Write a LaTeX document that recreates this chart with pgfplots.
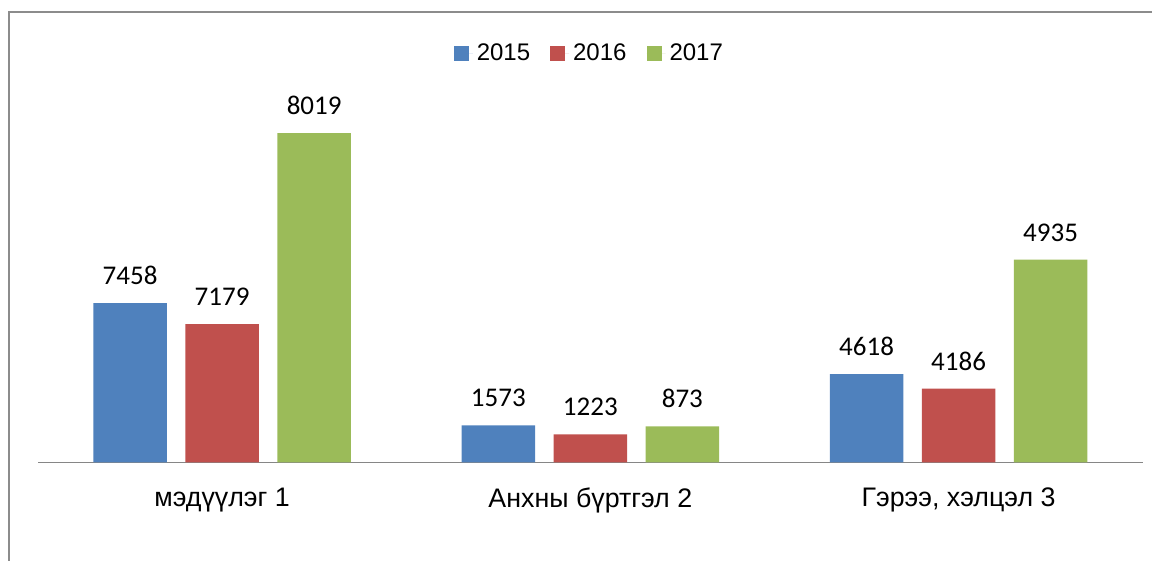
\documentclass[border=0pt]{standalone}
\usepackage{fontspec}
\setmainfont{Liberation Sans}
\newfontfamily\calib{Carlito}
\usepackage{pgfplots}
\usepackage{pgfplotstable}
\pgfplotsset{compat=1.18}
\definecolor{cblue}{HTML}{4F81BD}
\definecolor{cred}{HTML}{C0504D}
\definecolor{cgreen}{HTML}{9BBB59}
\definecolor{frame}{HTML}{8C8C8C}
\definecolor{axisgray}{HTML}{868686}
% x = category, h = drawn bar height, label = value printed on the bar
\pgfplotstableread{
x h label
0 3875 7458
1 902 1573
2 2145 4618
}\tabA
\pgfplotstableread{
x h label
0 3363 7179
1 682 1223
2 1794 4186
}\tabB
\pgfplotstableread{
x h label
0 8019 8019
1 873 873
2 4935 4935
}\tabC
\begin{document}
\begin{tikzpicture}
\path[use as bounding box] (0,0) rectangle (576pt,-280.5pt);
\draw[frame, line width=1pt] (4.5pt,-281pt) -- (4.5pt,-6pt) -- (577pt,-6pt);
\begin{axis}[
  at={(19pt,-231.15pt)}, anchor=south west,
  scale only axis,
  width=552.35pt, height=164.65pt,
  xmin=-0.5, xmax=2.5, ymin=0, ymax=8019,
  clip=false,
  axis y line=none,
  axis x line*=bottom,
  x axis line style={draw=axisgray, line width=0.75pt, -},
  xtick={0,1,2},
  xticklabels={мэдүүлэг 1, Анхны бүртгэл 2, {Гэрээ, хэлцэл 3}},
  major tick length=0pt,
  xticklabel style={font=\fontsize{13.4}{16}\selectfont, inner sep=0pt, yshift=-12.5pt, text=black},
  ybar=9.25pt, bar width=36.75pt,
  nodes near coords,
  point meta=explicit symbolic,
  every node near coord/.append style={font=\calib\fontsize{13.5}{16}\selectfont, inner sep=0pt, yshift=9pt, text=black},
  legend columns=-1,
  legend style={at={(0.5,1)}, anchor=center, yshift=39.5pt, draw=none, fill=none,
    font=\fontsize{12}{14}\selectfont,
    /tikz/every even column/.append style={column sep=8pt}},
  legend image code/.code={\fill[#1] (0pt,-3.75pt) rectangle (7.5pt,3.75pt);
    \path (0pt,0pt) -- (9.5pt,0pt);},
]
\addplot[fill=cblue, draw=none] table[x=x, y=h, meta=label] {\tabA};
\addplot[fill=cred, draw=none] table[x=x, y=h, meta=label] {\tabB};
\addplot[fill=cgreen, draw=none] table[x=x, y=h, meta=label] {\tabC};
\legend{2015, 2016, 2017}
\end{axis}
\end{tikzpicture}
\end{document}
